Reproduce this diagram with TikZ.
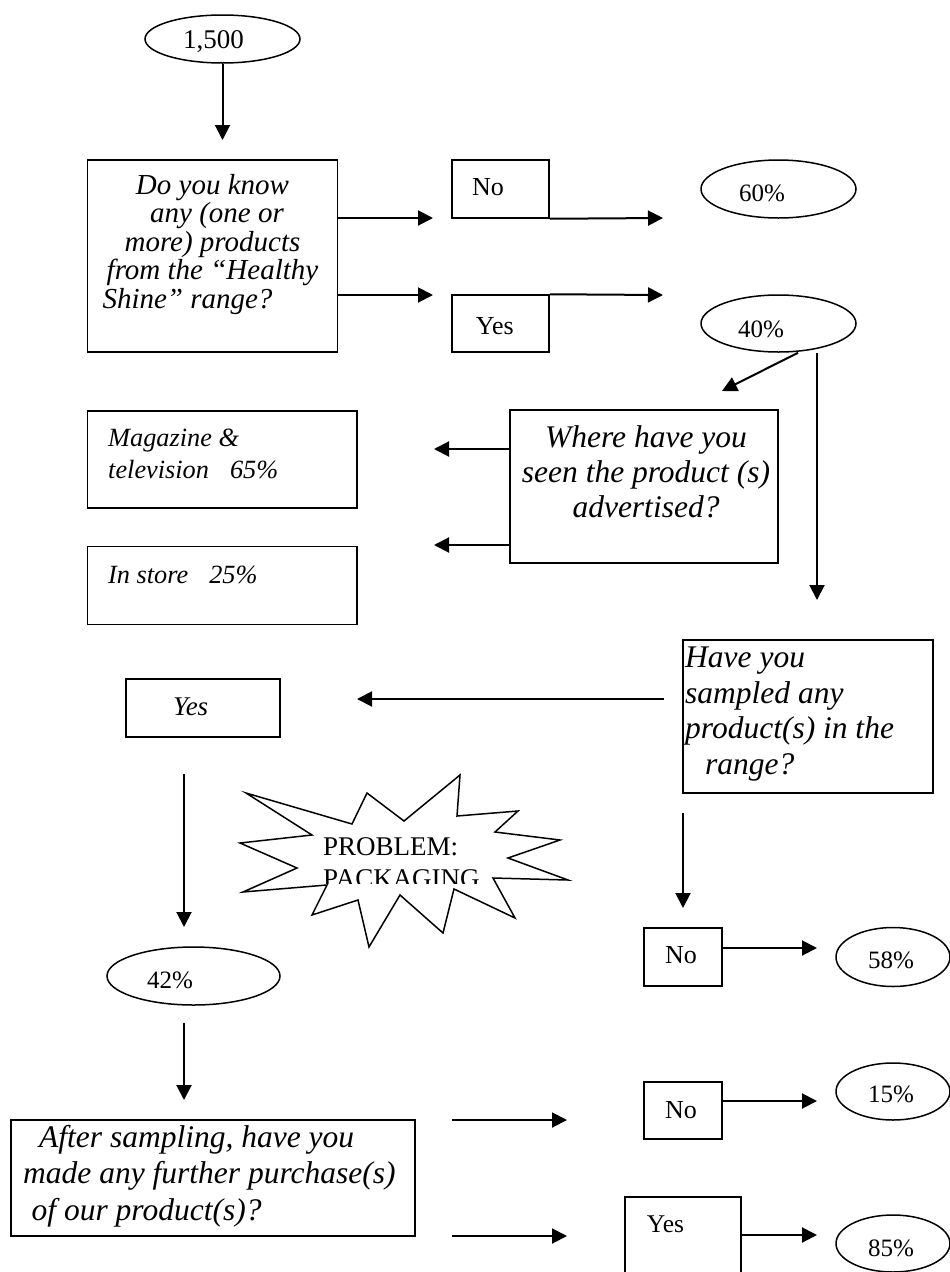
\documentclass[tikz,border=0pt]{standalone}
\usepackage{fontspec}
\setmainfont{Liberation Serif}
\usetikzlibrary{arrows.meta,shapes.geometric}
\begin{document}
\begin{tikzpicture}[x=1pt,y=-1pt,
  box/.style={draw,line width=1.5pt,rectangle,inner sep=0pt},
  oval/.style={draw,line width=1.5pt,ellipse,inner sep=0pt},
  flow/.style={line width=2pt,-{Triangle[length=15pt,width=15pt]}},
  lbl/.style={inner sep=0pt,anchor=base west},
  clbl/.style={inner sep=0pt,anchor=base},
  rm/.style={font=\fontsize{#1}{#1}\selectfont},
  it/.style={font=\fontsize{#1}{#1}\selectfont\itshape},
]
\clip (0,0) rectangle (950,1272);

% ---------- boxes ----------
\node[box,minimum width=250.4pt,minimum height=191.7pt] (q1) at (212.5,255.9) {};
\node[box,minimum width=97pt,minimum height=58pt] (no1) at (500.5,189) {};
\node[box,minimum width=97pt,minimum height=57pt] (yes1) at (500.5,323.5) {};
\node[box,minimum width=269.6pt,minimum height=97.3pt] (mag) at (222.2,459.4) {};
\node[box,minimum width=269.6pt,minimum height=78pt] (store) at (222.2,585.5) {};
\node[box,minimum width=268pt,minimum height=153pt] (where) at (644,486.5) {};
\node[box,minimum width=250pt,minimum height=153pt] (have) at (808,716.5) {};
\node[box,minimum width=154pt,minimum height=58pt] (yes2) at (203,708) {};
\node[box,minimum width=78pt,minimum height=58pt] (no2) at (683,957) {};
\node[box,minimum width=404pt,minimum height=116pt] (after) at (213,1178) {};
\node[box,minimum width=78pt,minimum height=57pt] (no3) at (683,1110.5) {};
\node[box,minimum width=116pt,minimum height=93pt] (yes3) at (683,1243.5) {};

% ---------- ovals ----------
\node[oval,minimum width=155pt,minimum height=48pt] (e1500) at (222.5,39) {};
\node[oval,minimum width=155pt,minimum height=58pt] (e60) at (778.5,189) {};
\node[oval,minimum width=155pt,minimum height=57pt] (e40) at (778.5,323.5) {};
\node[oval,minimum width=173pt,minimum height=58pt] (e42) at (193.5,976) {};
\node[oval,minimum width=114pt,minimum height=59pt] (e58) at (893,957) {};
\node[oval,minimum width=114pt,minimum height=57pt] (e15) at (893,1091.5) {};
\node[oval,minimum width=114pt,minimum height=57pt] (e85) at (893,1243.5) {};

% ---------- texts (multi-line nodes sit on the baseline of their last line) ----------
\node[lbl,rm=27] (t1500) at (183,48) {1,500};
\node[clbl,align=center,font=\fontsize{29}{28.5}\selectfont\itshape] (q1t) at (212.5,308)
  {Do you know\\\hspace*{9pt}any (one or\\more) products\\from the “Healthy\hspace*{26pt}\\Shine” range?\hspace*{50pt}};
\node[lbl,rm=26] (no1t) at (472,195.6) {No};
\node[lbl,rm=26] (yes1t) at (475.7,334) {Yes};
\node[lbl,rm=25] (t60) at (739,201) {60\%};
\node[lbl,rm=25] (t40) at (738,337) {40\%};
\node[lbl,align=left,font=\fontsize{26.3}{32}\selectfont\itshape] (magt) at (108,478)
  {Magazine \&\\television\hspace*{0.8em}65\%};
\node[lbl,it=26.3] (storet) at (108,583) {In store\hspace*{0.8em}25\%};
\node[clbl,align=center,font=\fontsize{31.5}{35}\selectfont\itshape] (wheret) at (646,517)
  {Where have you\\seen the product (s)\\advertised?};
\node[lbl,align=left,font=\fontsize{31.5}{35.5}\selectfont\itshape] (havet) at (685,774)
  {Have you\\sampled any\\product(s) in the\\\hspace*{20pt}range?};
\node[lbl,it=27] (yes2t) at (173,715) {Yes};
\node[lbl,rm=25] (t42) at (147,988) {42\%};
\node[lbl,rm=26] (no2t) at (665,963) {No};
\node[lbl,rm=25] (t58) at (868,968) {58\%};
\node[lbl,rm=26] (no3t) at (665,1118) {No};
\node[lbl,rm=25] (t15) at (868,1102.7) {15\%};
\node[lbl,rm=25.5] (yes3t) at (646.7,1232.7) {Yes};
\node[lbl,rm=25] (t85) at (868,1256.7) {85\%};
\node[lbl,align=left,font=\fontsize{31.5}{36.5}\selectfont\itshape] (aftert) at (23,1220)
  {\hspace*{16pt}After sampling, have you\\made any further purchase(s)\\\hspace*{8.5pt}of our product(s)?};

% ---------- starburst ----------
\draw[line width=1.5pt,line join=miter,fill=white]
  (246,793) -- (352,824) -- (367,793) -- (404,821) -- (460,775) -- (457,816)
  -- (518,811) -- (495,832) -- (560,840) -- (508,858) -- (568,880) -- (493,878)
  -- (515,918) -- (454,889) -- (443,933) -- (400,895) -- (369,947) -- (358,900)
  -- (312,915) -- (327,885) -- (243,892) -- (297,868) -- (240,843) -- (312,835)
  -- cycle;
\begin{scope}
  \clip (300,830) rectangle (520,883.3);
  \node[lbl,align=left,font=\fontsize{27}{32}\selectfont] (probt) at (323,887)
    {PROBLEM:\\PACKAGING};
\end{scope}

% ---------- free connector ends ----------
\coordinate (a1e) at (222.5,140);
\coordinate (a2e) at (433,218);
\coordinate (a3e) at (433,295);
\coordinate (a4e) at (663,218);
\coordinate (a5e) at (663,295);
\coordinate (a6e) at (722,391);
\coordinate (a7e) at (817,600);
\coordinate (a8e) at (434,449);
\coordinate (a9e) at (434,545);
\coordinate (a10s) at (664,699);
\coordinate (a10e) at (357,699);
\coordinate (a11s) at (184,774);
\coordinate (a11e) at (184,927);
\coordinate (a12s) at (683,813);
\coordinate (a12e) at (683,908);
\coordinate (a13e) at (817,948);
\coordinate (a14s) at (184,1023);
\coordinate (a14e) at (184,1100);
\coordinate (a15s) at (452,1120);
\coordinate (a15e) at (567,1120);
\coordinate (a16s) at (452,1236);
\coordinate (a16e) at (567,1236);
\coordinate (a17e) at (817,1101);
\coordinate (a18e) at (817,1235);

% ---------- connectors ----------
\draw[flow] (e1500.south) -- (a1e);
\draw[flow] (q1.east |- a2e) -- (a2e);
\draw[flow] (q1.east |- a3e) -- (a3e);
\draw[flow] (no1.south east) -- (a4e);
\draw[flow] (yes1.north east) -- (a5e);
\draw[flow] ([xshift=19.5pt]e40.south) -- (a6e);
\draw[flow] ([xshift=38.5pt]e40.south) -- (a7e);
\draw[flow] (where.west |- a8e) -- (a8e);
\draw[flow] (where.west |- a9e) -- (a9e);
\draw[flow] (a10s) -- (a10e);
\draw[flow] (a11s) -- (a11e);
\draw[flow] (a12s) -- (a12e);
\draw[flow] (no2.east |- a13e) -- (a13e);
\draw[flow] (a14s) -- (a14e);
\draw[flow] (a15s) -- (a15e);
\draw[flow] (a16s) -- (a16e);
\draw[flow] (no3.east |- a17e) -- (a17e);
\draw[flow] (yes3.east |- a18e) -- (a18e);
\end{tikzpicture}
\end{document}
